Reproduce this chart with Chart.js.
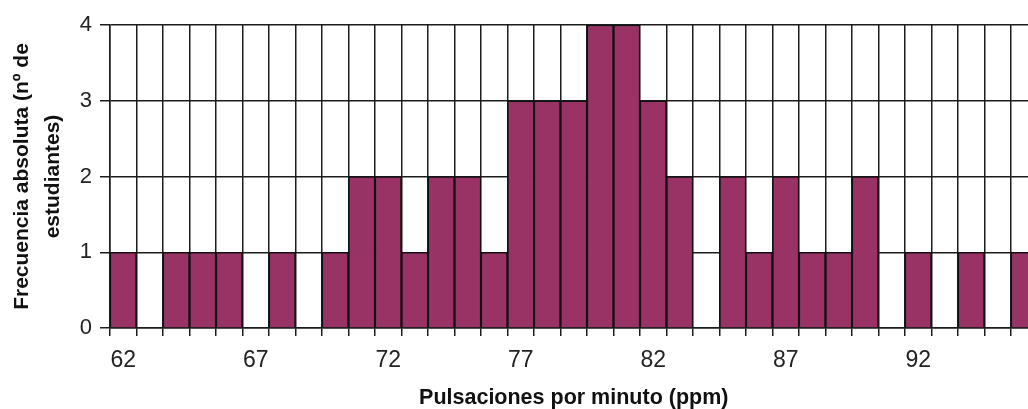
<!DOCTYPE html>
<html>
<head>
<meta charset="utf-8">
<script src="https://cdn.jsdelivr.net/npm/chart.js@4/dist/chart.umd.min.js"></script>
<style>
  html, body { margin: 0; padding: 0; background: #ffffff; overflow: hidden; }
  #wrap { width: 1040px; height: 409px; }
</style>
</head>
<body>
<div id="wrap"><canvas id="c" width="1040" height="409"></canvas></div>
<script>
// Pulse rate classes (beats per minute)
const pulsaciones = [62, 63, 64, 65, 66, 67, 68, 69, 70, 71, 72, 73, 74, 75, 76, 77, 78, 79,
                     80, 81, 82, 83, 84, 85, 86, 87, 88, 89, 90, 91, 92, 93, 94, 95, 96];
// Number of students in each class
const frecuencia = [1, 0, 1, 1, 1, 0, 1, 0, 1, 2, 2, 1, 2, 2, 1, 3, 3, 3,
                    4, 4, 3, 2, 0, 2, 1, 2, 1, 1, 2, 0, 1, 0, 1, 0, 1];
// Classes that carry a printed label on the x axis
const etiquetasX = [62, 67, 72, 77, 82, 87, 92];
// Y axis ticks
const marcasY = [0, 1, 2, 3, 4];

const lineColor = '#1c1c1c';
const textColor = '#222222';
const family = '"Liberation Sans", Arial, sans-serif';

new Chart(document.getElementById('c'), {
  type: 'bar',
  data: {
    labels: pulsaciones,
    datasets: [{
      data: frecuencia,
      backgroundColor: '#993366',
      borderColor: '#111111',
      borderWidth: 1.5,
      categoryPercentage: 1.0,
      barPercentage: 1.0
    }]
  },
  options: {
    responsive: false,
    animation: false,
    layout: { padding: { top: 25, right: 2.5, left: 0, bottom: 0 } },
    plugins: { legend: { display: false }, tooltip: { enabled: false } },
    scales: {
      x: {
        grid: { display: true, color: lineColor, lineWidth: 1.5, offset: true, tickLength: 8, drawTicks: true },
        border: { display: true, color: lineColor, width: 1.5 },
        ticks: {
          autoSkip: false,
          maxRotation: 0,
          minRotation: 0,
          padding: 11,
          color: textColor,
          font: { family: family, size: 23 },
          callback: function (value, index) {
            const v = pulsaciones[index];
            return etiquetasX.includes(v) ? String(v) : '';
          }
        },
        title: {
          display: true,
          text: 'Pulsaciones por minuto (ppm)',
          color: '#111111',
          font: { family: family, size: 21.5, weight: 'bold', lineHeight: 1.0 },
          padding: { top: 0, bottom: 0 }
        },
        afterFit: function (scale) { scale.height = 81; }
      },
      y: {
        min: 0,
        max: 4,
        afterBuildTicks: function (scale) {
          scale.ticks = marcasY.map(v => ({ value: v }));
        },
        grid: { display: true, color: lineColor, lineWidth: 1.5, tickLength: 10, drawTicks: true },
        border: { display: true, color: lineColor, width: 1.5 },
        ticks: {
          padding: 8,
          color: textColor,
          font: { family: family, size: 22 }
        },
        title: {
          display: true,
          text: ['Frecuencia absoluta (nº de', 'estudiantes)'],
          color: '#111111',
          font: { family: family, size: 21, weight: 'bold', lineHeight: 1.5 },
          padding: { top: 6, bottom: 0 }
        },
        afterFit: function (scale) { scale.width = 110; }
      }
    }
  }
});
</script>
</body>
</html>
